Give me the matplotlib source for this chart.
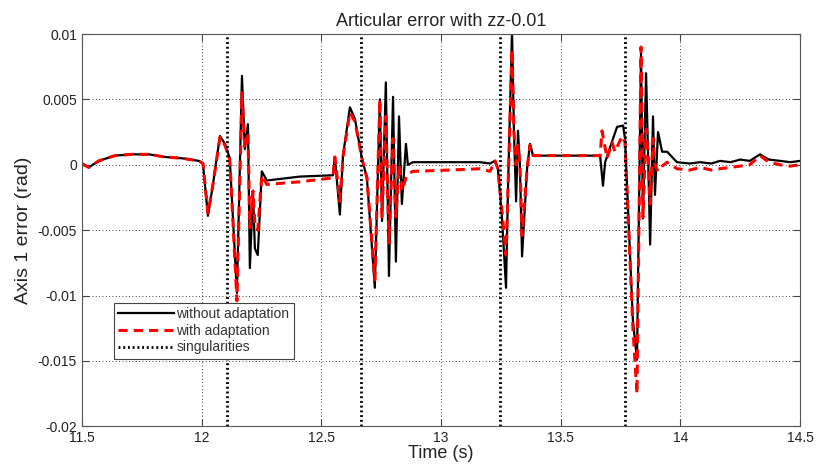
import numpy as np
import matplotlib
matplotlib.use('Agg')
import matplotlib.pyplot as plt
from matplotlib.ticker import FuncFormatter

plt.rcParams['font.family'] = ['Liberation Sans', 'DejaVu Sans']

# Singularity instants (s)
singularities = [12.105, 12.668, 13.247, 13.770]

# Without adaptation (black) - vertices
t_without = [11.500, 11.529, 11.571, 11.638, 11.709, 11.780, 11.847, 11.918, 11.989, 12.006,
             12.027, 12.047, 12.077, 12.098, 12.118, 12.148, 12.169, 12.181, 12.194, 12.202,
             12.215, 12.223, 12.235, 12.252, 12.273, 12.411, 12.549, 12.557, 12.578, 12.591,
             12.620, 12.641, 12.670, 12.691, 12.724, 12.745, 12.754, 12.770, 12.783, 12.800,
             12.812, 12.825, 12.837, 12.854, 12.862, 12.883, 13.038, 13.163, 13.205, 13.226,
             13.238, 13.255, 13.272, 13.280, 13.297, 13.305, 13.314, 13.322, 13.330, 13.339,
             13.360, 13.372, 13.385, 13.497, 13.665, 13.677, 13.686, 13.719, 13.736, 13.761,
             13.769, 13.802, 13.819, 13.836, 13.844, 13.857, 13.865, 13.874, 13.886, 13.894,
             13.907, 13.924, 13.945, 13.986, 14.040, 14.083, 14.130, 14.166, 14.210, 14.250,
             14.290, 14.333, 14.370, 14.417, 14.460, 14.500]
e_without = [0.0001, -0.0002, 0.0003, 0.0007, 0.0008, 0.0008, 0.0006, 0.0005, 0.0003, 0.0001,
             -0.0039, -0.0016, 0.0022, 0.0016, 0.0005, -0.0098, 0.0068, 0.0012, 0.0031, -0.0079,
             -0.0020, -0.0064, -0.0069, -0.0005, -0.0012, -0.0009, -0.0008, 0.0006, -0.0038, 0.0007,
             0.0044, 0.0035, 0.0005, -0.0010, -0.0094, 0.0050, -0.0043, 0.0063, -0.0085, 0.0052,
             -0.0074, 0.0037, -0.0030, 0.0016, 0.0000, 0.0002, 0.0002, 0.0002, 0.0001, 0.0003,
             -0.0003, -0.0040, -0.0094, -0.0020, 0.0102, 0.0027, -0.0028, 0.0026, 0.0000, -0.0070,
             -0.0003, 0.0016, 0.0007, 0.0007, 0.0007, -0.0016, 0.0002, 0.0020, 0.0029, 0.0030,
             0.0020, -0.0119, -0.0149, 0.0085, -0.0041, 0.0070, 0.0010, -0.0061, 0.0037, -0.0023,
             0.0025, 0.0010, 0.0010, 0.0002, 0.0001, 0.0002, 0.0001, 0.0003, 0.0002, 0.0004,
             0.0003, 0.0008, 0.0004, 0.0003, 0.0002, 0.0003]

# With adaptation (red dashed)
t_with = [11.500, 11.529, 11.571, 11.638, 11.709, 11.780, 11.847, 11.918, 11.989, 12.006,
          12.027, 12.047, 12.077, 12.098, 12.118, 12.148, 12.169, 12.181, 12.194, 12.202,
          12.215, 12.223, 12.235, 12.252, 12.273, 12.411, 12.549, 12.557, 12.578, 12.591,
          12.620, 12.641, 12.670, 12.691, 12.724, 12.745, 12.754, 12.770, 12.783, 12.800,
          12.812, 12.825, 12.837, 12.854, 12.862, 12.883, 13.038, 13.163, 13.205, 13.226,
          13.238, 13.255, 13.272, 13.280, 13.297, 13.305, 13.314, 13.322, 13.330, 13.339,
          13.360, 13.372, 13.385, 13.497, 13.665, 13.673, 13.694, 13.715, 13.727, 13.757,
          13.769, 13.802, 13.819, 13.836, 13.844, 13.857, 13.865, 13.874, 13.886, 13.894,
          13.907, 13.924, 13.945, 13.986, 14.040, 14.083, 14.130, 14.166, 14.210, 14.250,
          14.290, 14.333, 14.370, 14.417, 14.460, 14.500]
e_with = [0.0001, -0.0002, 0.0003, 0.0007, 0.0008, 0.0008, 0.0006, 0.0005, 0.0003, 0.0001,
          -0.0037, -0.0016, 0.0021, 0.0015, 0.0004, -0.0104, 0.0055, 0.0012, 0.0025, -0.0048,
          -0.0020, -0.0045, -0.0050, -0.0008, -0.0015, -0.0013, -0.0010, 0.0006, -0.0028, 0.0006,
          0.0040, 0.0033, 0.0005, -0.0010, -0.0088, 0.0050, -0.0040, 0.0037, -0.0060, 0.0020,
          -0.0040, 0.0000, -0.0020, -0.0010, -0.0007, -0.0005, -0.0004, -0.0003, -0.0005, 0.0003,
          -0.0003, -0.0035, -0.0069, -0.0020, 0.0088, 0.0025, 0.0000, 0.0015, 0.0000, -0.0054,
          -0.0003, 0.0015, 0.0007, 0.0007, 0.0007, 0.0026, 0.0005, 0.0017, 0.0010, 0.0022,
          0.0017, -0.0125, -0.0175, 0.0090, -0.0040, 0.0027, 0.0010, -0.0030, 0.0020, 0.0000,
          -0.0005, -0.0001, 0.0002, -0.0003, -0.0004, -0.0002, -0.0004, -0.0003, -0.0002, -0.0001,
          0.0000, 0.0007, 0.0002, 0.0000, -0.0001, 0.0000]

fig = plt.figure(figsize=(8.18, 4.66), dpi=100)
ax = fig.add_axes([0.100, 0.085, 0.878, 0.842])

ax.plot(t_without, e_without, color='black', lw=1.6, label='without adaptation')
ax.plot(t_with, e_with, color='red', lw=2.2, ls=(0, (3, 2)), label='with adaptation')
for i, ts in enumerate(singularities):
    ax.axvline(ts, color='black', lw=2.0, ls=(0, (0.7, 1.0)),
               label='singularities' if i == 0 else None)

ax.set_xlim(11.5, 14.5)
ax.set_ylim(-0.02, 0.01)
ax.set_xticks(np.arange(11.5, 14.51, 0.5))
ax.set_yticks(np.arange(-0.02, 0.0101, 0.005))
ax.yaxis.set_major_formatter(FuncFormatter(lambda v, p: '%g' % round(v, 4)))
ax.xaxis.set_major_formatter(FuncFormatter(lambda v, p: '%g' % v))
ax.tick_params(direction='in', top=True, right=True, labelsize=10, length=5,
               color='#444444', labelcolor='#222222')
ax.grid(True, color='black', ls=(0, (1, 3)), lw=0.6)
for s in ax.spines.values():
    s.set_color('#555555')

ax.set_title('Articular error with zz-0.01', fontsize=13, color='#222222')
ax.set_xlabel('Time (s)', fontsize=13, labelpad=0, color='#222222')
ax.set_ylabel('Axis 1 error (rad)', fontsize=14, color='#222222')

leg = ax.legend(loc='upper left', bbox_to_anchor=(0.035, 0.333), fontsize=10,
                handlelength=4, handletextpad=0.2, borderpad=0.3, labelspacing=0.2,
                fancybox=False, framealpha=1, edgecolor='#444444')
leg.get_frame().set_linewidth(0.8)
for txt in leg.get_texts():
    txt.set_color('#333333')

fig.savefig('out.png', dpi=100)
